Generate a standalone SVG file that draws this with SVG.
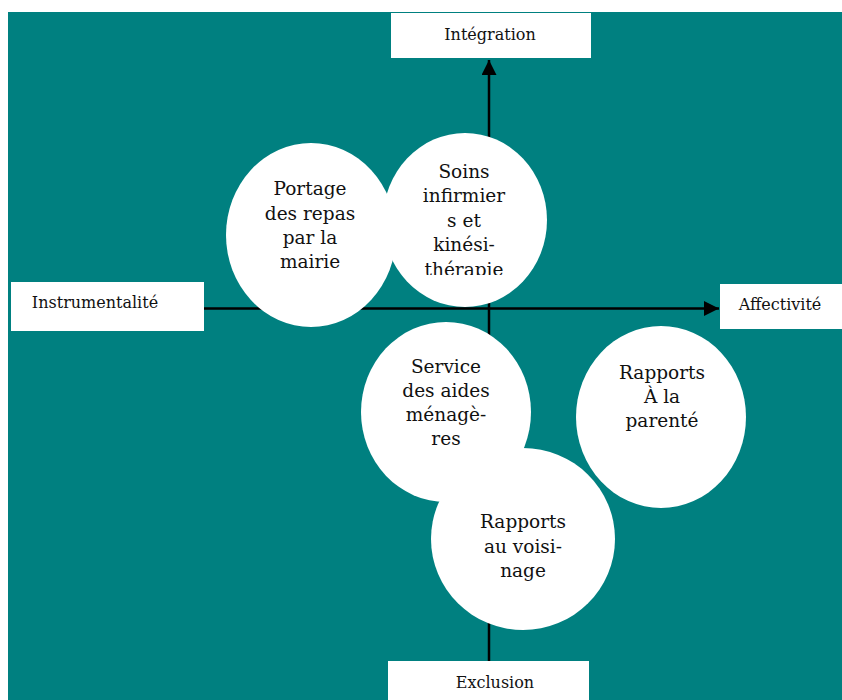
<svg xmlns="http://www.w3.org/2000/svg" width="842" height="700" viewBox="0 0 842 700">
  <style>
    .bg { fill: #008080; }
    .box { fill: #ffffff; }
    .bubble { fill: #ffffff; }
    .axis { stroke: #000000; stroke-width: 2.5; fill: none; }
    .lbl { font-family: "DejaVu Serif", Georgia, serif; font-size: 16px; fill: #111111; text-anchor: middle; }
    .txt { font-family: "DejaVu Serif", Georgia, serif; font-size: 18.5px; fill: #111111; text-anchor: middle; }
  </style>
  <defs>
    <marker id="arrow" viewBox="0 0 10 10" refX="10" refY="5" markerWidth="6" markerHeight="6" markerUnits="strokeWidth" orient="auto">
      <path d="M0,0 L10,5 L0,10 Z" fill="#000000"/>
    </marker>
    <clipPath id="soinsClip">
      <rect x="383" y="140" width="164" height="135"/>
    </clipPath>
  </defs>

  <!-- white page with teal panel -->
  <rect x="0" y="0" width="842" height="700" fill="#ffffff"/>
  <rect class="bg" x="8" y="12" width="834" height="688"/>

  <!-- axes -->
  <g id="connectors">
    <line class="axis" x1="489" y1="661" x2="489" y2="60" marker-end="url(#arrow)"/>
    <line class="axis" x1="204" y1="308.5" x2="719" y2="308.5" marker-end="url(#arrow)"/>
  </g>

  <!-- axis end labels -->
  <g id="integration">
    <rect class="box" x="391" y="13" width="200" height="45"/>
    <text class="lbl" x="490" y="40">Intégration</text>
  </g>
  <g id="instrumentalite">
    <rect class="box" x="11" y="282" width="193" height="49"/>
    <text class="lbl" x="95" y="308">Instrumentalité</text>
  </g>
  <g id="affectivite">
    <rect class="box" x="720" y="284" width="122" height="45"/>
    <text class="lbl" x="780" y="310">Affectivité</text>
  </g>
  <g id="exclusion">
    <rect class="box" x="388" y="661" width="201" height="39"/>
    <text class="lbl" x="495" y="688">Exclusion</text>
  </g>

  <!-- service bubbles -->
  <g id="portage">
    <ellipse class="bubble" cx="311" cy="235" rx="85" ry="92"/>
    <text class="txt" x="310" y="195">Portage</text>
    <text class="txt" x="310" y="220">des repas</text>
    <text class="txt" x="310" y="244">par la</text>
    <text class="txt" x="310" y="268">mairie</text>
  </g>
  <g id="soins">
    <ellipse class="bubble" cx="465" cy="220" rx="82" ry="87"/>
    <g clip-path="url(#soinsClip)">
      <text class="txt" x="464" y="178">Soins</text>
      <text class="txt" x="464" y="202">infirmier</text>
      <text class="txt" x="464" y="227">s et</text>
      <text class="txt" x="464" y="251">kinési-</text>
      <text class="txt" x="464" y="276">thérapie</text>
    </g>
  </g>
  <g id="aides-menageres">
    <ellipse class="bubble" cx="446" cy="412" rx="85" ry="90"/>
    <text class="txt" x="446" y="373">Service</text>
    <text class="txt" x="446" y="397">des aides</text>
    <text class="txt" x="446" y="421">ménagè-</text>
    <text class="txt" x="446" y="445">res</text>
  </g>
  <g id="parente">
    <ellipse class="bubble" cx="661" cy="417" rx="85" ry="91"/>
    <text class="txt" x="662" y="379">Rapports</text>
    <text class="txt" x="662" y="403">À la</text>
    <text class="txt" x="662" y="427">parenté</text>
  </g>
  <g id="voisinage">
    <ellipse class="bubble" cx="523" cy="539" rx="92" ry="91"/>
    <text class="txt" x="523" y="528">Rapports</text>
    <text class="txt" x="523" y="553">au voisi-</text>
    <text class="txt" x="523" y="577">nage</text>
  </g>
</svg>
